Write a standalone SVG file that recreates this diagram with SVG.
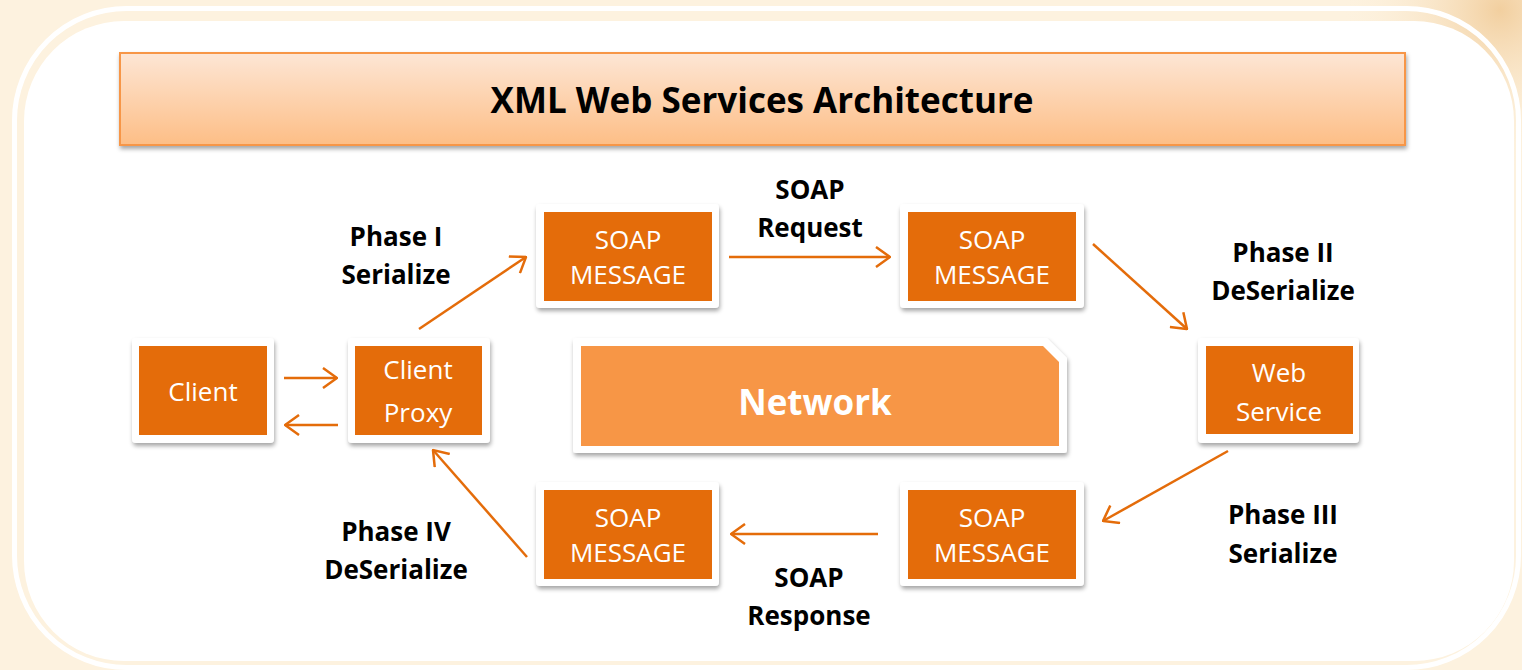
<svg xmlns="http://www.w3.org/2000/svg" width="1522" height="670" viewBox="0 0 1522 670">
<defs>
<style>
.frame{fill:#ffffff;filter:url(#sh)}
.box{fill:#e46c0a}
.nt{font-family:"Open Sans","Liberation Sans",sans-serif;font-size:26px;fill:#ffffff;text-anchor:middle}
.lbl{font-family:"Open Sans","Liberation Sans",sans-serif;font-size:26px;font-weight:bold;fill:#000000;text-anchor:middle}
.con{stroke:#e46c0a;stroke-width:2.5;fill:none;marker-end:url(#ah)}
</style>
<linearGradient id="tg" x1="0" y1="0" x2="0" y2="1">
<stop offset="0" stop-color="#fde6d5"/>
<stop offset="1" stop-color="#fdbe86"/>
</linearGradient>
<radialGradient id="bgc" cx="1500" cy="10" r="160" gradientUnits="userSpaceOnUse">
<stop offset="0" stop-color="#f2cf9f"/>
<stop offset="1" stop-color="#fdf2df" stop-opacity="0"/>
</radialGradient>
<filter id="sh" x="-10%" y="-10%" width="120%" height="130%">
<feDropShadow dx="1" dy="3" stdDeviation="2.2" flood-color="#000" flood-opacity="0.35"/>
</filter>
<marker id="ah" viewBox="0 0 16 22" refX="15" refY="11" markerWidth="16" markerHeight="22" markerUnits="userSpaceOnUse" orient="auto">
<path d="M1,1 L15,11 L1,21" fill="none" stroke="#e46c0a" stroke-width="2.5"/>
</marker>
</defs>
<rect x="0" y="0" width="1522" height="670" fill="#fdf2df"/>
<rect x="1300" y="0" width="222" height="260" fill="url(#bgc)"/>
<rect x="14.5" y="8.5" width="1504" height="659" rx="112" fill="none" stroke="#ffffff" stroke-width="5"/>
<rect x="24" y="21" width="1490" height="640" rx="100" fill="#ffffff"/>

<g id="title">
<rect x="120" y="53" width="1285" height="92" fill="url(#tg)" stroke="#f79646" stroke-width="2" filter="url(#sh)"/>
<text x="762" y="113" font-family="'Open Sans','Liberation Sans',sans-serif" font-size="35" font-weight="bold" fill="#000" text-anchor="middle">XML Web Services Architecture</text>
</g>

<g id="client">
<rect class="frame" x="132" y="338" width="142" height="105" rx="4"/>
<rect class="box" x="139" y="346" width="128" height="89"/>
<text class="nt" x="203" y="401">Client</text>
</g>
<g id="client-proxy">
<rect class="frame" x="348" y="338" width="142" height="105" rx="4"/>
<rect class="box" x="355" y="346" width="127" height="89"/>
<text class="nt" x="418" y="379">Client</text>
<text class="nt" x="418" y="422">Proxy</text>
</g>
<g id="soap-message-1">
<rect class="frame" x="536" y="204" width="183" height="104" rx="4"/>
<rect class="box" x="544" y="212" width="168" height="89"/>
<text class="nt" x="628" y="249">SOAP</text>
<text class="nt" x="628" y="284">MESSAGE</text>
</g>
<g id="soap-message-2">
<rect class="frame" x="900" y="204" width="184" height="104" rx="4"/>
<rect class="box" x="908" y="212" width="168" height="89"/>
<text class="nt" x="992" y="249">SOAP</text>
<text class="nt" x="992" y="284">MESSAGE</text>
</g>
<g id="web-service">
<rect class="frame" x="1198" y="338" width="161" height="105" rx="4"/>
<rect class="box" x="1206" y="346" width="147" height="88"/>
<text class="nt" x="1279" y="382">Web</text>
<text class="nt" x="1279" y="421">Service</text>
</g>
<g id="soap-message-3">
<rect class="frame" x="900" y="482" width="184" height="104" rx="4"/>
<rect class="box" x="908" y="490" width="168" height="89"/>
<text class="nt" x="992" y="527">SOAP</text>
<text class="nt" x="992" y="562">MESSAGE</text>
</g>
<g id="soap-message-4">
<rect class="frame" x="536" y="482" width="183" height="104" rx="4"/>
<rect class="box" x="544" y="490" width="168" height="89"/>
<text class="nt" x="628" y="527">SOAP</text>
<text class="nt" x="628" y="562">MESSAGE</text>
</g>
<g id="network">
<path d="M576,338 L1047,338 L1067,358 L1067,450 Q1067,453 1064,453 L576,453 Q573,453 573,450 L573,341 Q573,338 576,338 Z" fill="#ffffff" filter="url(#sh)"/>
<path d="M581,346 L1043,346 L1059,362 L1059,446 L581,446 Z" fill="#f79646"/>
<text x="815" y="415" font-family="'Open Sans','Liberation Sans',sans-serif" font-size="35" font-weight="bold" fill="#ffffff" text-anchor="middle">Network</text>
</g>

<g id="connectors">
<line class="con" x1="284" y1="378" x2="337" y2="378"/>
<line class="con" x1="338" y1="425" x2="285" y2="425"/>
<line class="con" x1="419" y1="329" x2="526" y2="257"/>
<line class="con" x1="729" y1="257" x2="890" y2="257"/>
<line class="con" x1="1093" y1="244" x2="1187" y2="329"/>
<line class="con" x1="1228" y1="451" x2="1103" y2="521"/>
<line class="con" x1="878" y1="534" x2="731" y2="534"/>
<line class="con" x1="527" y1="557" x2="433" y2="450"/>
</g>

<g id="labels">
<text class="lbl" x="396" y="246">Phase I</text>
<text class="lbl" x="396" y="284">Serialize</text>
<text class="lbl" x="810" y="199">SOAP</text>
<text class="lbl" x="810" y="237">Request</text>
<text class="lbl" x="1283" y="262">Phase II</text>
<text class="lbl" x="1283" y="300">DeSerialize</text>
<text class="lbl" x="1283" y="524">Phase III</text>
<text class="lbl" x="1283" y="563">Serialize</text>
<text class="lbl" x="396" y="541">Phase IV</text>
<text class="lbl" x="396" y="579">DeSerialize</text>
<text class="lbl" x="809" y="587">SOAP</text>
<text class="lbl" x="809" y="625">Response</text>
</g>
</svg>
